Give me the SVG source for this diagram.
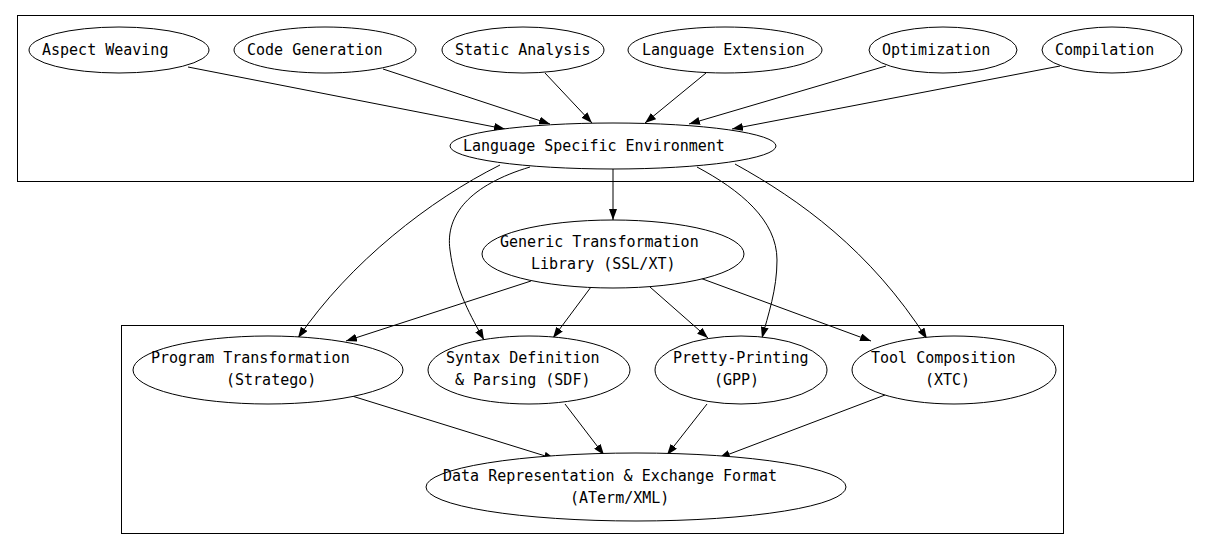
<svg xmlns="http://www.w3.org/2000/svg" width="1209" height="550" viewBox="0 0 1209 550">
<defs>
<marker id="ah" markerWidth="12" markerHeight="8" refX="11" refY="4" orient="auto" markerUnits="userSpaceOnUse">
<path d="M0,0 L11,4 L0,8 Z" fill="#000"/>
</marker>
<style>
.n ellipse{fill:#fff;stroke:#000;stroke-width:1}
.n text,text{font-family:"DejaVu Sans Mono","Liberation Mono",monospace;font-size:15px;fill:#000}
.c path{fill:none;stroke:#000;stroke-width:1;marker-end:url(#ah)}
.cl{fill:none;stroke:#000;stroke-width:1}
</style>
</defs>
<rect width="1209" height="550" fill="#fff"/>
<rect class="cl" x="17.5" y="15.5" width="1176" height="166"/>
<rect class="cl" x="121.5" y="325.5" width="942" height="208"/>
<g class="c" id="connectors">
<path d="M188,67 L505,129"/>
<path d="M383,69 L550,124"/>
<path d="M545,73 L592,123"/>
<path d="M706,73 L645,123"/>
<path d="M886,66 L689,124"/>
<path d="M1060,66 L732,129"/>
<path d="M613,169 L613,220"/>
<path d="M500,165 C430,200 350,262 298,338"/>
<path d="M530,167 C470,185 445,215 450,250 C455,290 472,318 484,340"/>
<path d="M697,167 C740,190 777,220 777,260 C777,290 768,315 762,338"/>
<path d="M735,164 C800,200 870,250 927,339"/>
<path d="M531,281 L346,341"/>
<path d="M591,287 L553,338"/>
<path d="M650,287 L708,338"/>
<path d="M700,278 L871,341"/>
<path d="M352,396 L555,459"/>
<path d="M565,404 L604,455"/>
<path d="M707,404 L667,455"/>
<path d="M885,395 L719,458"/>
</g>
<g class="n" id="aspect"><ellipse cx="119" cy="50" rx="90" ry="23"/><text x="42" y="55">Aspect Weaving</text></g>
<g class="n" id="codegen"><ellipse cx="325" cy="50" rx="91" ry="23"/><text x="247" y="55">Code Generation</text></g>
<g class="n" id="static"><ellipse cx="523" cy="50" rx="81" ry="23"/><text x="455" y="55">Static Analysis</text></g>
<g class="n" id="langext"><ellipse cx="725" cy="50" rx="97" ry="23"/><text x="642" y="55">Language Extension</text></g>
<g class="n" id="optim"><ellipse cx="943" cy="50" rx="74" ry="23"/><text x="882" y="55">Optimization</text></g>
<g class="n" id="compil"><ellipse cx="1112" cy="50" rx="70" ry="23"/><text x="1055" y="55">Compilation</text></g>
<g class="n" id="lse"><ellipse cx="613" cy="146" rx="163" ry="23"/><text x="463" y="151">Language Specific Environment</text></g>
<g class="n" id="generic"><ellipse cx="613" cy="254" rx="131" ry="34"/><text x="500" y="247">Generic Transformation</text><text x="531" y="269">Library (SSL/XT)</text></g>
<g class="n" id="progtrans"><ellipse cx="268" cy="370" rx="135" ry="34"/><text x="151" y="363">Program Transformation</text><text x="226" y="385">(Stratego)</text></g>
<g class="n" id="syntax"><ellipse cx="529" cy="370" rx="101" ry="34"/><text x="446" y="363">Syntax Definition</text><text x="455" y="385">&amp; Parsing (SDF)</text></g>
<g class="n" id="pretty"><ellipse cx="741" cy="370" rx="86" ry="34"/><text x="673" y="363">Pretty-Printing</text><text x="714" y="385">(GPP)</text></g>
<g class="n" id="tool"><ellipse cx="954" cy="370" rx="102" ry="34"/><text x="871" y="363">Tool Composition</text><text x="925" y="385">(XTC)</text></g>
<g class="n" id="data"><ellipse cx="636" cy="487" rx="210" ry="34"/><text x="443" y="481">Data Representation &amp; Exchange Format</text><text x="570" y="503">(ATerm/XML)</text></g>
</svg>
